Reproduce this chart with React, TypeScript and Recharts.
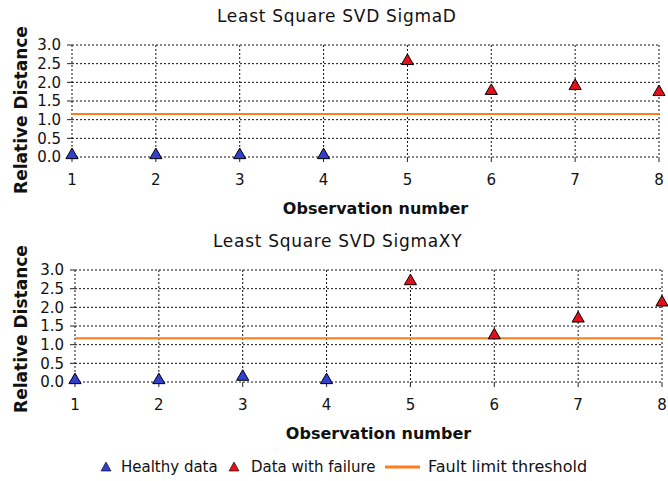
import {
  CartesianGrid,
  ReferenceLine,
  Scatter,
  ScatterChart,
  XAxis,
  YAxis,
  ZAxis,
} from "recharts";

const healthyObs = [1, 2, 3, 4];
const failureObs = [5, 6, 7, 8];
const xTicks = [1, 2, 3, 4, 5, 6, 7, 8];
const yTicks = [0, 0.5, 1, 1.5, 2, 2.5, 3];

const sigmaDHealthy = [0.05, 0.05, 0.05, 0.05];
const sigmaDFailure = [2.57, 1.77, 1.9, 1.74];
const sigmaDThreshold = 1.15;

const sigmaXYHealthy = [0.05, 0.05, 0.14, 0.05];
const sigmaXYFailure = [2.7, 1.25, 1.7, 2.13];
const sigmaXYThreshold = 1.17;

const FONT = "'DejaVu Sans', Verdana, sans-serif";
const BLUE = "#3140d0";
const RED = "#e5101c";
const ORANGE = "#ff7d1e";

const toPoints = (xs: number[], ys: number[]) =>
  xs.map((x, i) => ({ x, y: ys[i] }));

interface PanelProps {
  title: string;
  healthy: number[];
  failure: number[];
  threshold: number;
  top: number;
  axisWidth: number;
  rightMargin: number;
  titleLeft: number;
  yLabelShift: number;
}

function Panel({
  title,
  healthy,
  failure,
  threshold,
  top,
  axisWidth,
  rightMargin,
  titleLeft,
  yLabelShift,
}: PanelProps) {
  return (
    <div style={{ position: "absolute", left: 0, top, width: 668, height: 220 }}>
      <div
        style={{
          position: "absolute",
          top: 6,
          left: titleLeft,
          fontFamily: FONT,
          fontSize: 17,
          letterSpacing: 0.7,
          color: "#111",
          whiteSpace: "nowrap",
        }}
      >
        {title}
      </div>
      <ScatterChart
        width={668}
        height={220}
        margin={{ top: 45, right: rightMargin, left: 0, bottom: 3 }}
      >
        <CartesianGrid stroke="#111" strokeDasharray="2 2" />
        <XAxis
          type="number"
          dataKey="x"
          domain={[1, 8]}
          ticks={xTicks}
          interval={0}
          height={60}
          axisLine={false}
          tickLine={{ stroke: "#222" }}
          tickSize={5}
          tickMargin={12}
          tick={{ fontFamily: FONT, fontSize: 15, fill: "#111" }}
          label={{
            value: "Observation number",
            position: "insideBottom",
            offset: 3,
            dx: 10,
            style: { fontFamily: FONT, fontSize: 16, fontWeight: "bold", fill: "#111" },
          }}
        />
        <YAxis
          type="number"
          dataKey="y"
          domain={[0, 3]}
          ticks={yTicks}
          interval={0}
          width={axisWidth}
          axisLine={false}
          tickLine={{ stroke: "#222" }}
          tickSize={5}
          tickMargin={6}
          tickFormatter={(v: number) => v.toFixed(1)}
          tick={{ fontFamily: FONT, fontSize: 15, fill: "#111" }}
          label={{
            value: "Relative Distance",
            angle: -90,
            position: "insideLeft",
            offset: 21,
            dy: yLabelShift,
            style: {
              fontFamily: FONT,
              fontSize: 17,
              fontWeight: "bold",
              fill: "#111",
              textAnchor: "middle",
            },
          }}
        />
        <ZAxis range={[55, 55]} />
        <ReferenceLine y={threshold} stroke={ORANGE} strokeWidth={2} />
        <Scatter
          data={toPoints(healthyObs, healthy)}
          shape="triangle"
          fill={BLUE}
          stroke="#000"
          isAnimationActive={false}
        />
        <Scatter
          data={toPoints(failureObs, failure)}
          shape="triangle"
          fill={RED}
          stroke="#000"
          isAnimationActive={false}
        />
      </ScatterChart>
    </div>
  );
}

function Legend() {
  const text = { position: "absolute" as const, top: 0, lineHeight: "20px" };
  const tri = (color: string, left: number) => (
    <svg width={12} height={12} style={{ position: "absolute", left, top: 4 }}>
      <polygon points="6,1 11,10 1,10" fill={color} stroke="#000" strokeWidth={0.6} />
    </svg>
  );
  return (
    <div
      style={{
        position: "absolute",
        top: 457,
        left: 0,
        width: 668,
        height: 20,
        fontFamily: FONT,
        fontSize: 15,
        color: "#111",
        whiteSpace: "nowrap",
      }}
    >
      {tri(BLUE, 100)}
      <span style={{ ...text, left: 121 }}>Healthy data</span>
      {tri(RED, 228)}
      <span style={{ ...text, left: 251 }}>Data with failure</span>
      <svg width={36} height={20} style={{ position: "absolute", left: 385, top: 0 }}>
        <line x1={0} y1={10} x2={35} y2={10} stroke={ORANGE} strokeWidth={3} />
      </svg>
      <span style={{ ...text, left: 428, fontSize: 16 }}>Fault limit threshold</span>
    </div>
  );
}

export default function App() {
  return (
    <div
      style={{
        position: "absolute",
        left: 0,
        top: 0,
        width: 668,
        height: 481,
        background: "#fff",
      }}
    >
      <Panel
        title="Least Square SVD SigmaD"
        healthy={sigmaDHealthy}
        failure={sigmaDFailure}
        threshold={sigmaDThreshold}
        top={0}
        axisWidth={72}
        rightMargin={9}
        titleLeft={217}
        yLabelShift={9}
      />
      <Panel
        title="Least Square SVD SigmaXY"
        healthy={sigmaXYHealthy}
        failure={sigmaXYFailure}
        threshold={sigmaXYThreshold}
        top={225}
        axisWidth={75}
        rightMargin={6}
        titleLeft={213}
        yLabelShift={3}
      />
      <Legend />
    </div>
  );
}
